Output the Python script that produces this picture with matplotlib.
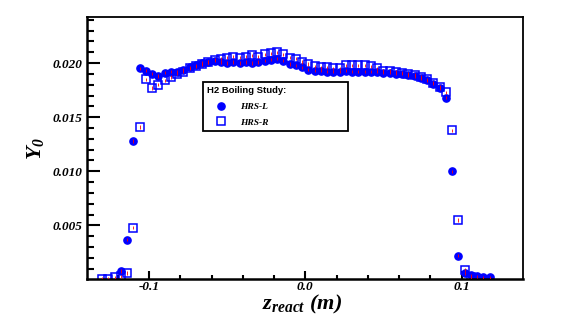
import matplotlib
matplotlib.use("Agg")
import matplotlib.pyplot as plt
from matplotlib.ticker import MultipleLocator, FixedLocator

# bin centres (m) and yields
z_left = [-0.118, -0.114, -0.110, -0.106, -0.102, -0.098, -0.094, -0.090, -0.086, -0.082,
          -0.078, -0.074, -0.070, -0.066, -0.062, -0.058, -0.054, -0.050, -0.046, -0.042,
          -0.038, -0.034, -0.030, -0.026, -0.022, -0.018, -0.014, -0.010, -0.006, -0.002,
          0.002, 0.006, 0.010, 0.014, 0.018, 0.022, 0.026, 0.030, 0.034, 0.038,
          0.042, 0.046, 0.050, 0.054, 0.058, 0.062, 0.066, 0.070, 0.074, 0.078,
          0.082, 0.086, 0.090, 0.094, 0.098, 0.102, 0.106, 0.110, 0.114, 0.118]
y_left = [0.0008, 0.0037, 0.0128, 0.0195, 0.0193, 0.0190, 0.0188, 0.0191, 0.0192, 0.0192,
          0.0194, 0.0196, 0.0198, 0.0200, 0.0201, 0.0202, 0.0201, 0.0200, 0.0201, 0.0200,
          0.0201, 0.0200, 0.0201, 0.0202, 0.0203, 0.0204, 0.0202, 0.0199, 0.0198, 0.0196,
          0.0194, 0.0193, 0.0193, 0.0192, 0.0192, 0.0192, 0.0193, 0.0192, 0.0192, 0.0192,
          0.0192, 0.0192, 0.0191, 0.0191, 0.0190, 0.0190, 0.0189, 0.0188, 0.0186, 0.0184,
          0.0181, 0.0177, 0.0168, 0.0100, 0.0022, 0.0006, 0.0004, 0.0003, 0.0002, 0.0002]

z_right = [-0.130, -0.126, -0.122, -0.118, -0.114, -0.110, -0.106, -0.102, -0.098, -0.094,
           -0.090, -0.086, -0.082, -0.078, -0.074, -0.070, -0.066, -0.062, -0.058, -0.054,
           -0.050, -0.046, -0.042, -0.038, -0.034, -0.030, -0.026, -0.022, -0.018, -0.014,
           -0.010, -0.006, -0.002, 0.002, 0.006, 0.010, 0.014, 0.018, 0.022, 0.026,
           0.030, 0.034, 0.038, 0.042, 0.046, 0.050, 0.054, 0.058, 0.062, 0.066,
           0.070, 0.074, 0.078, 0.082, 0.086, 0.090, 0.094, 0.098, 0.102, 0.106]
y_right = [0.0001, 0.0001, 0.0002, 0.0003, 0.0006, 0.0048, 0.0141, 0.0185, 0.0177, 0.0180,
           0.0184, 0.0187, 0.0190, 0.0192, 0.0195, 0.0197, 0.0199, 0.0201, 0.0203, 0.0204,
           0.0205, 0.0206, 0.0205, 0.0206, 0.0207, 0.0206, 0.0208, 0.0209, 0.0210, 0.0208,
           0.0205, 0.0204, 0.0201, 0.0199, 0.0197, 0.0196, 0.0196, 0.0195, 0.0195, 0.0198,
           0.0198, 0.0198, 0.0198, 0.0197, 0.0195, 0.0193, 0.0193, 0.0192, 0.0191, 0.0190,
           0.0189, 0.0187, 0.0185, 0.0182, 0.0178, 0.0173, 0.0138, 0.0055, 0.0009, 0.0002]

y_err = 0.00015

plt.rcParams['mathtext.fontset'] = 'custom'
plt.rcParams['mathtext.it'] = 'Liberation Serif:bold:italic'
plt.rcParams['mathtext.rm'] = 'Liberation Serif:bold:italic'
plt.rcParams['mathtext.bf'] = 'Liberation Serif:bold:italic'

serif_bi = dict(family='Liberation Serif', weight='bold', style='italic')


def main():
    fig = plt.figure(figsize=(5.81, 3.28), dpi=100)
    ax = fig.add_axes([87 / 581, 1 - 278.5 / 328, 436 / 581, 261.5 / 328])

    l1, = ax.plot(z_left, y_left, 'o', color='#0000ff', ms=5.2, mec='#0000ff', zorder=2,
                  label='HRS-L')
    l2, = ax.plot(z_right, y_right, 's', color='#0000ff', ms=5.8, mfc='none', mec='#0000ff',
                  mew=1.1, zorder=2, label='HRS-R')
    ax.errorbar(z_left, y_left, yerr=y_err, fmt='none', ecolor='red', elinewidth=0.6, zorder=3)
    ax.errorbar(z_right, y_right, yerr=y_err, fmt='none', ecolor='red', elinewidth=0.6, zorder=3)

    ax.set_xlim(-0.1397, 0.1393)
    ax.set_ylim(0.0001, 0.02425)

    ax.xaxis.set_major_locator(FixedLocator([-0.1, 0.0, 0.1]))
    ax.xaxis.set_minor_locator(MultipleLocator(0.02))
    ax.yaxis.set_major_locator(FixedLocator([0.005, 0.010, 0.015, 0.020]))
    ax.yaxis.set_minor_locator(MultipleLocator(0.001))
    ax.set_xticklabels(['-0.1', '0.0', '0.1'])
    ax.set_yticklabels(['0.005', '0.010', '0.015', '0.020'])
    ax.tick_params(which='both', direction='in', top=False, right=False, width=1.5)
    ax.tick_params(axis='y', which='major', length=9.5, pad=3)
    ax.tick_params(axis='y', which='minor', length=5)
    ax.tick_params(axis='x', which='major', length=6, pad=2)
    ax.tick_params(axis='x', which='minor', length=3)
    for lab in ax.get_xticklabels() + ax.get_yticklabels():
        lab.set(fontsize=9.5, **serif_bi)
    for side in ['left', 'bottom']:
        ax.spines[side].set_linewidth(1.8)
    for side in ['top', 'right']:
        ax.spines[side].set_linewidth(1.3)

    fig.text(35 / 581, 1 - 148 / 328, r'$Y_0$', rotation=90, ha='center', va='center',
             fontsize=16, **serif_bi)
    fig.text(302 / 581, 1 - 309 / 328, r'$z_{react}$ (m)', ha='center', va='baseline',
             fontsize=16, **serif_bi)

    leg = ax.legend(handles=[l1, l2], loc='upper left',
                    bbox_to_anchor=(203 / 581, 1 - 131 / 328, 145 / 581, 49 / 328),
                    bbox_transform=fig.transFigure, mode='expand',
                    title='H2 Boiling Study:', fancybox=False, framealpha=1,
                    edgecolor='black', borderpad=0.45, labelspacing=0.75, handletextpad=0.5,
                    handlelength=3.0, borderaxespad=0, prop=serif_bi | {'size': 6.8})
    leg.get_frame().set_linewidth(1.3)
    leg._legend_box.align = 'left'
    leg.get_title().set(family='Liberation Sans', weight='bold', size=6.8)

    fig.savefig('out.png', dpi=100)


if __name__ == '__main__':
    main()
